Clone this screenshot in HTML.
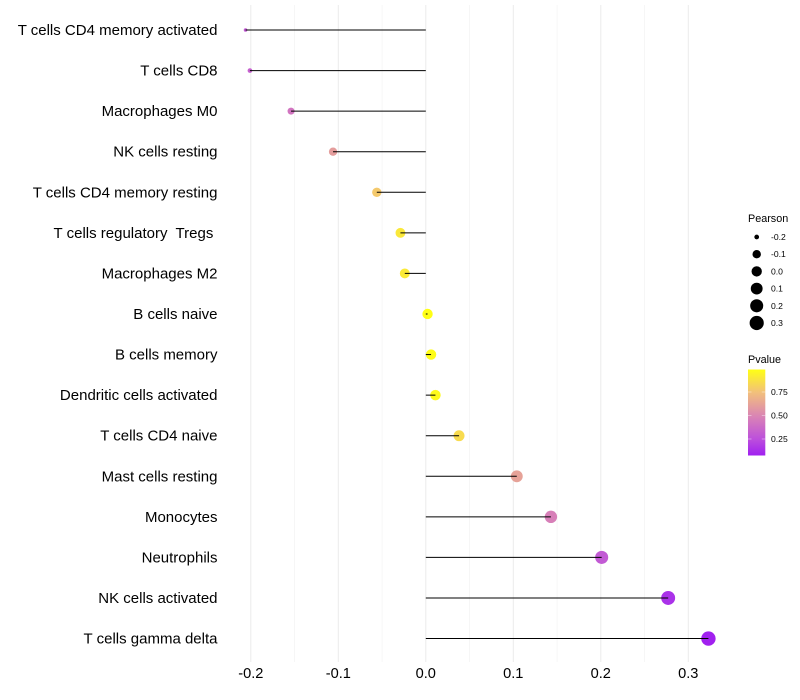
<!DOCTYPE html>
<html>
<head>
<meta charset="utf-8">
<title>Pearson lollipop chart</title>
<style>
html,body{margin:0;padding:0;background:#fff;}
svg{display:block;font-family:"Liberation Sans",sans-serif;}
text{white-space:pre;}
</style>
</head>
<body>
<svg id="chart" width="800" height="700" viewBox="0 0 800 700" xmlns="http://www.w3.org/2000/svg">
<defs>
<linearGradient id="pgrad" x1="0" y1="1" x2="0" y2="0">
<stop offset="0" stop-color="#a020f0"/>
<stop offset="0.19" stop-color="#bc4fdc"/>
<stop offset="0.46" stop-color="#da85b4"/>
<stop offset="0.73" stop-color="#f2bf7c"/>
<stop offset="1" stop-color="#ffff14"/>
</linearGradient>
</defs>
</svg>
<script>
const categories = ["T cells CD4 memory activated","T cells CD8","Macrophages M0","NK cells resting","T cells CD4 memory resting","T cells regulatory  Tregs ","Macrophages M2","B cells naive","B cells memory","Dendritic cells activated","T cells CD4 naive","Mast cells resting","Monocytes","Neutrophils","NK cells activated","T cells gamma delta"];
const pearson = [-0.206,-0.201,-0.154,-0.106,-0.056,-0.029,-0.024,0.002,0.006,0.011,0.038,0.104,0.143,0.201,0.277,0.323];
const pvalue = [0.30,0.33,0.42,0.60,0.78,0.90,0.91,0.99,0.98,0.97,0.85,0.62,0.47,0.30,0.14,0.08];
const xMajorTicks = [-0.2,-0.1,0.0,0.1,0.2,0.3];
const xMinorTicks = [-0.15,-0.05,0.05,0.15,0.25];
const sizeLegendValues = [-0.2,-0.1,0.0,0.1,0.2,0.3];
const colorLegendValues = [0.75,0.50,0.25];

const svg = document.getElementById('chart');
const NS = 'http://www.w3.org/2000/svg';
function make(tag, attrs, text){
  const el = document.createElementNS(NS, tag);
  for (const k in attrs) el.setAttribute(k, attrs[k]);
  if (text !== undefined) el.textContent = text;
  svg.appendChild(el);
  return el;
}
function xScale(v){ return 425.8 + v * 875; }
function yScale(i){ return 30 + i * 40.57; }
function sizeScale(v){
  const lo = Math.min(...pearson), hi = Math.max(...pearson);
  const t = Math.max(0, (v - lo) / (hi - lo));
  return 1.8 + 5.4 * Math.sqrt(t);
}
const pLow = 0.075, pHigh = 0.99;
const rampStops = [[0,[160,32,240]],[0.19,[188,79,220]],[0.46,[218,133,180]],[0.73,[242,191,124]],[1,[255,255,20]]];
function colorScale(p){
  const t = Math.min(1, Math.max(0, (p - pLow) / (pHigh - pLow)));
  for (let i = 1; i < rampStops.length; i++){
    if (t <= rampStops[i][0]){
      const a = rampStops[i-1], b = rampStops[i];
      const f = (t - a[0]) / (b[0] - a[0]);
      const c = a[1].map((u, j) => Math.round(u + (b[1][j] - u) * f));
      return 'rgb(' + c.join(',') + ')';
    }
  }
  return 'rgb(255,255,20)';
}
function pLegendY(p){ return 392 + (0.75 - p) * 94; }

xMinorTicks.forEach(v => {
  const el = make('line', {x1:xScale(v), x2:xScale(v), y1:5, y2:662, stroke:'#f1f1f1', 'stroke-width':0.6});
  
  
});
xMajorTicks.forEach(v => {
  const el = make('line', {x1:xScale(v), x2:xScale(v), y1:5, y2:662, stroke:'#ebebeb', 'stroke-width':1});
  
  
});

categories.forEach((c, i) => {
  const y = yScale(i);
  const dot = make('circle', {cx:xScale(pearson[i]), cy:y, r:sizeScale(pearson[i]), fill:colorScale(pvalue[i])});
  
  
  const seg = make('line', {x1:xScale(0), x2:xScale(pearson[i]), y1:y, y2:y, stroke:'#000', 'stroke-width':1});
  
  
  const lab = make('text', {x:217.5, y:y + 5, 'text-anchor':'end', 'font-size':15, fill:'#000'}, c);
  
  
});

xMajorTicks.forEach(v => {
  const t = make('text', {x:xScale(v), y:678, 'text-anchor':'middle', 'font-size':14.6, fill:'#000'}, v.toFixed(1));
  
  
});

const sizeTitle = make('text', {x:748, y:222, 'font-size':10.8, fill:'#000'}, 'Pearson');


sizeLegendValues.forEach((v, i) => {
  const y = 237 + i * 17.2;
  const c = make('circle', {cx:756.7, cy:y, r:sizeScale(v), fill:'#000'});
  
  
  const t = make('text', {x:771, y:y + 3, 'font-size':8.6, fill:'#000'}, v.toFixed(1));
  
  
});

const colorTitle = make('text', {x:748, y:363, 'font-size':10.8, fill:'#000'}, 'Pvalue');


const bar = make('rect', {x:748, y:369.5, width:17.3, height:86, fill:'url(#pgrad)'});


colorLegendValues.forEach(p => {
  const y = pLegendY(p);
  const a = make('line', {x1:748, x2:751.5, y1:y, y2:y, stroke:'#fff', 'stroke-width':0.5, 'stroke-opacity':0.8});
  
  
  const b = make('line', {x1:761.8, x2:765.3, y1:y, y2:y, stroke:'#fff', 'stroke-width':0.5, 'stroke-opacity':0.8});
  
  
  const t = make('text', {x:771, y:y + 3, 'font-size':8.6, fill:'#000'}, p.toFixed(2));
  
  
});
</script>
</body>
</html>
